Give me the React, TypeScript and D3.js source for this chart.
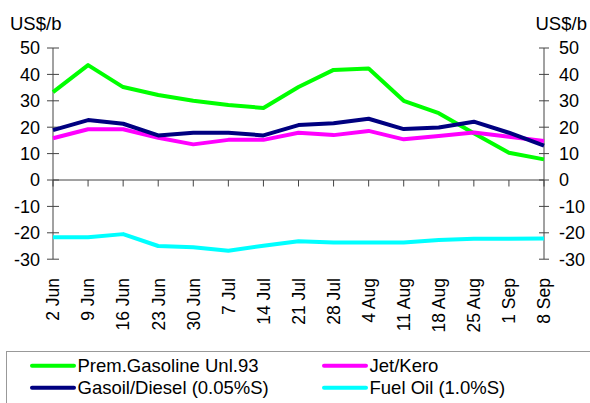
import React from "react";
import * as d3 from "d3";

const categories = ["2 Jun","9 Jun","16 Jun","23 Jun","30 Jun","7 Jul","14 Jul","21 Jul","28 Jul","4 Aug","11 Aug","18 Aug","25 Aug","1 Sep","8 Sep"];
const gasoline = [33.3,43.5,35.2,32.2,30.0,28.4,27.3,35.2,41.7,42.2,30.0,25.3,17.7,10.3,7.8];
const jetKero = [15.8,19.2,19.2,16.0,13.5,15.2,15.2,17.9,17.0,18.6,15.4,16.7,18.0,16.4,14.8];
const gasoil = [18.9,22.7,21.3,16.9,17.9,17.9,16.9,20.8,21.5,23.2,19.3,19.9,22.1,17.9,13.0];
const fuelOil = [-21.7,-21.7,-20.5,-25.0,-25.5,-26.8,-24.9,-23.2,-23.7,-23.7,-23.7,-22.7,-22.3,-22.3,-22.2];
const yTicks = [50,40,30,20,10,0,-10,-20,-30];

const series = [
  { name: "Prem.Gasoline Unl.93", values: gasoline, color: "#00ff00" },
  { name: "Jet/Kero", values: jetKero, color: "#ff00ff" },
  { name: "Gasoil/Diesel (0.05%S)", values: gasoil, color: "#000080" },
  { name: "Fuel Oil (1.0%S)", values: fuelOil, color: "#00ffff" },
];

export default function App() {
  const W = 590, H = 403;
  const left = 53, right = 544;
  const x = d3.scalePoint<string>().domain(categories).range([left, right]);
  const y = d3.scaleLinear().domain([-30, 50]).range([259.2, 48]);
  const line = d3.line<number>().x((_, i) => x(categories[i]) as number).y(d => y(d));
  const font = "Arial, 'Liberation Sans', sans-serif";
  const axisColor = "#444";
  const legendItems = [
    { s: series[0], lx: 32, ly: 365.7 },
    { s: series[1], lx: 324, ly: 365.7 },
    { s: series[2], lx: 32, ly: 387.7 },
    { s: series[3], lx: 324, ly: 387.7 },
  ];
  return (
    <div style={{ position: "fixed", left: 0, top: 0 }}>
      <svg width={W} height={H} style={{ display: "block", background: "#fff" }} fontFamily={font}>
        <rect x={0} y={0} width={W} height={H} fill="#fff" />
        <line x1={left} x2={left} y1={y(50)} y2={y(-30)} stroke={axisColor} strokeWidth={1} />
        <line x1={right} x2={right} y1={y(50)} y2={y(-30)} stroke={axisColor} strokeWidth={1} />
        <line x1={left} x2={right} y1={y(0)} y2={y(0)} stroke={axisColor} strokeWidth={1} />
        {yTicks.map(t => (
          <g key={t}>
            <line x1={left - 6} x2={left + 6} y1={y(t)} y2={y(t)} stroke={axisColor} />
            <line x1={right - 5} x2={right + 5} y1={y(t)} y2={y(t)} stroke={axisColor} />
            <text x={40} y={y(t)} dy="0.36em" textAnchor="end" fontSize={18} fill="#000">{t}</text>
            <text x={559} y={y(t)} dy="0.36em" textAnchor="start" fontSize={18} fill="#000">{t}</text>
          </g>
        ))}
        {categories.map(c => (
          <g key={c}>
            <line x1={x(c)} x2={x(c)} y1={y(0)} y2={y(0) + 6.5} stroke={axisColor} />
            <text transform={`translate(${x(c) as number},278) rotate(-90)`} dy="0.36em" textAnchor="end" fontSize={17.5} fill="#000">{c}</text>
          </g>
        ))}
        <text x={10} y={30} fontSize={18.5} fill="#000">US$/b</text>
        <text x={535.5} y={30} fontSize={18.5} fill="#000">US$/b</text>
        {series.map(s => (
          <path key={s.name} d={line(s.values) || ""} fill="none" stroke={s.color} strokeWidth={4} strokeLinejoin="round" />
        ))}
        <rect x={6.5} y={351.5} width={590} height={60} fill="#fff" stroke="#999" />
        {legendItems.map(({ s, lx, ly }) => (
          <g key={s.name}>
            <line x1={lx} x2={lx + 42} y1={ly} y2={ly} stroke={s.color} strokeWidth={4} strokeLinecap="round" />
            <text x={lx + 45.5} y={ly} dy="0.36em" fontSize={18.5} fill="#000">{s.name}</text>
          </g>
        ))}
      </svg>
    </div>
  );
}
